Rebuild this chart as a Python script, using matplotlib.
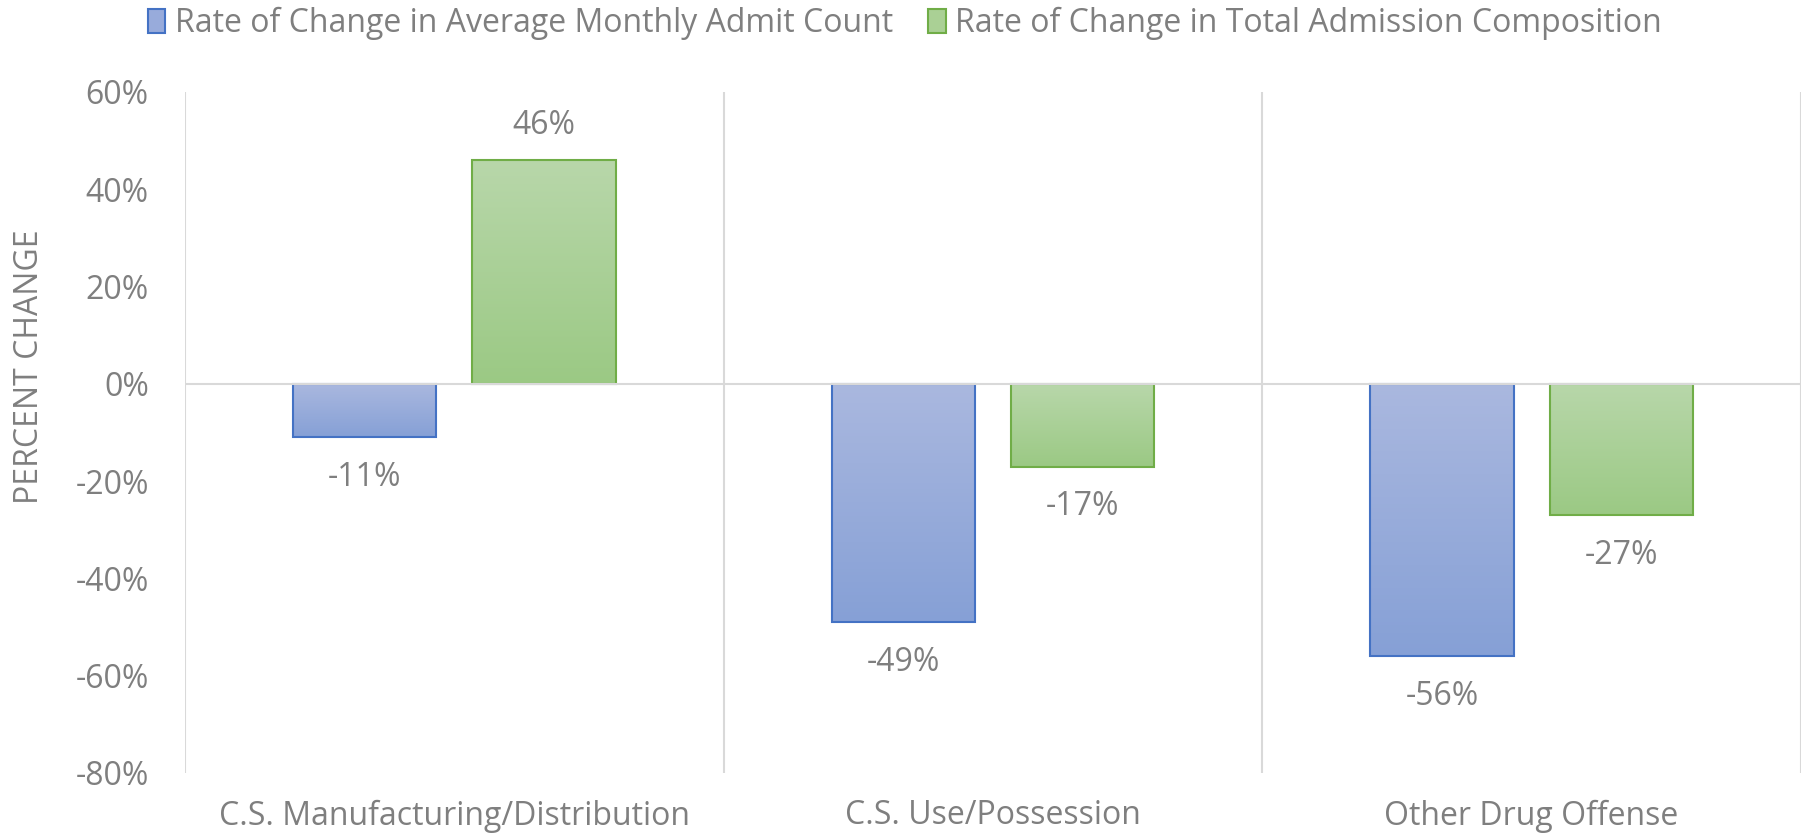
import numpy as np
import matplotlib
matplotlib.use("Agg")
import matplotlib.pyplot as plt
from matplotlib.colors import LinearSegmentedColormap
from matplotlib.patches import Patch

# data
categories = ["C.S. Manufacturing/Distribution", "C.S. Use/Possession", "Other Drug Offense"]
series_names = ["Rate of Change in Average Monthly Admit Count",
                "Rate of Change in Total Admission Composition"]
admit_count = [-0.11, -0.49, -0.56]
composition = [0.46, -0.17, -0.27]
y_ticks = [-0.8, -0.6, -0.4, -0.2, 0.0, 0.2, 0.4, 0.6]

plt.rcParams['font.family'] = ['Open Sans', 'DejaVu Sans']
text_col = "#7f7f7f"
grid_col = "#d9d9d9"
fs = 23

fig = plt.figure(figsize=(18.1, 8.4), dpi=100)
ax = fig.add_axes([0.1022, 0.0798, 0.8928, 0.8107])

x = np.arange(len(categories))
w = 0.266
off = 0.1665

styles = [
    (admit_count, -off, "#4472c4", ("#aab8df", "#86a0d6")),
    (composition, off, "#70ad47", ("#b8d7aa", "#9bc984")),
]

for vals, dx, edge, (top, bottom) in styles:
    cmap = LinearSegmentedColormap.from_list("g", [top, bottom])
    bars = ax.bar(x + dx, vals, w, facecolor="none", edgecolor=edge, linewidth=1.5, zorder=3)
    grad = np.linspace(0, 1, 256).reshape(-1, 1)
    for b, v in zip(bars, vals):
        x0 = b.get_x()
        y_lo, y_hi = min(0, v), max(0, v)
        ax.imshow(grad, cmap=cmap, aspect="auto", origin="upper",
                  extent=[x0, x0 + b.get_width(), y_lo, y_hi], zorder=2)
        ty = v + (0.072 if v > 0 else -0.082)
        ax.text(x0 + b.get_width() / 2, ty, f"{round(v * 100):d}%",
                ha="center", va="center", fontsize=fs, color=text_col)

ax.set_xlim(-0.5, 2.5)
ax.set_ylim(-0.8, 0.6)
ax.set_yticks(y_ticks)
ax.set_yticklabels([f"{round(t * 100):d}%" for t in y_ticks])
ax.set_xticks(x)
ax.set_xticklabels(categories)
ax.tick_params(axis="both", length=0, labelsize=fs, labelcolor=text_col)
ax.tick_params(axis="y", pad=26)
ax.tick_params(axis="x", pad=19)

for s in ax.spines.values():
    s.set_visible(False)
for xv in [-0.5, 0.5, 1.5, 2.5]:
    ax.axvline(xv, color=grid_col, linewidth=1.5, zorder=1)
ax.axhline(0, color=grid_col, linewidth=1.5, zorder=4)

ax.set_ylabel("PERCENT CHANGE", fontsize=fs, color=text_col)
ax.yaxis.set_label_coords(-0.086, 0.596)

handles = [Patch(facecolor="#98abdb", edgecolor="#4472c4", linewidth=1.5),
           Patch(facecolor="#aad095", edgecolor="#70ad47", linewidth=1.5)]
fig.legend(handles, series_names, loc="center", bbox_to_anchor=(0.5, 0.972), ncol=2,
           frameon=False, fontsize=fs, labelcolor=text_col, handlelength=0.55,
           handleheight=0.8, handletextpad=0.3, columnspacing=1.1)

fig.savefig("out.png", dpi=100)
